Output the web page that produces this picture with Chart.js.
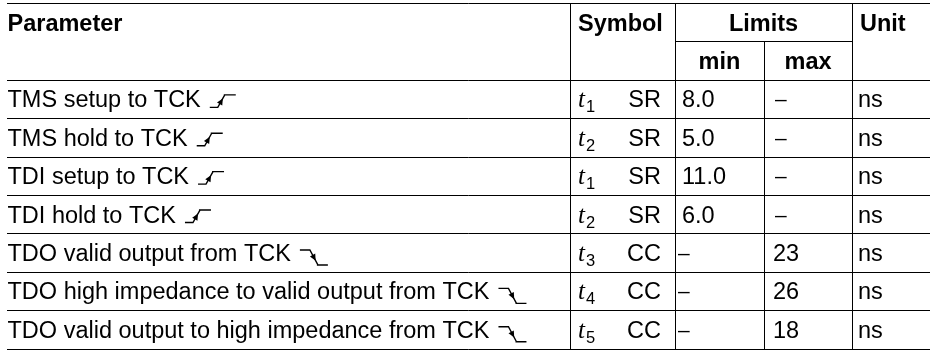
<!DOCTYPE html>
<html>
<head>
<meta charset="utf-8">
<script src="https://cdn.jsdelivr.net/npm/chart.js@4/dist/chart.umd.min.js"></script>
<style>
  html, body { margin: 0; padding: 0; background: #fff; }
  #wrap { width: 930px; height: 352px; }
</style>
</head>
<body>
<div id="wrap"><canvas id="table" width="930" height="352"></canvas></div>
<script>
// table content
const headers = ['Parameter', 'Symbol', 'Limits', 'Unit'];
const subHeaders = ['min', 'max'];
const parameters = [
  'TMS setup to TCK',
  'TMS hold to TCK',
  'TDI setup to TCK',
  'TDI hold to TCK',
  'TDO valid output from TCK',
  'TDO high impedance to valid output from TCK',
  'TDO valid output to high impedance from TCK'
];
const edges = ['rise', 'rise', 'rise', 'rise', 'fall', 'fall', 'fall'];
const symbolIndex = [1, 2, 1, 2, 3, 4, 5];
const symbolClass = ['SR', 'SR', 'SR', 'SR', 'CC', 'CC', 'CC'];
const minValues = [8.0, 5.0, 11.0, 6.0, null, null, null];
const maxValues = [null, null, null, null, 23, 26, 18];
const units = ['ns', 'ns', 'ns', 'ns', 'ns', 'ns', 'ns'];

// column edges on the x scale: left, symbol, min, max, unit, right
const colEdges = [7, 570, 675, 764, 852, 930];
const headerRows = 2;

const SANS = '"Liberation Sans", Arial, sans-serif';
const SERIF = '"Liberation Serif", "Times New Roman", serif';
const FS = 23.5;
const CAP = FS * 0.716;

function fmtMin(v) { return v === null ? null : v.toFixed(1); }
function fmtMax(v) { return v === null ? null : String(v); }

function drawDash(ctx, x, base) {
  ctx.save();
  ctx.font = '21px ' + SANS;
  ctx.textAlign = 'left';
  ctx.fillText('\u2013', x, base - 1);
  ctx.restore();
}

function drawEdge(ctx, x, base, kind) {
  ctx.save();
  ctx.lineWidth = 1.4;
  ctx.strokeStyle = '#000';
  ctx.fillStyle = '#000';
  ctx.beginPath();
  let ax, ay, bx, by;
  if (kind === 'rise') {
    const lo = base, hi = base - 12.5;
    ctx.moveTo(x, lo); ctx.lineTo(x + 8, lo);
    ctx.lineTo(x + 15, hi);
    ctx.moveTo(x + 14, hi); ctx.lineTo(x + 26, hi);
    ax = x + 8; ay = lo; bx = x + 15; by = hi;
  } else {
    const hi = base - 11, lo = base + 4;
    ctx.moveTo(x, hi); ctx.lineTo(x + 10, hi);
    ctx.lineTo(x + 18, lo);
    ctx.moveTo(x + 17, lo); ctx.lineTo(x + 28, lo);
    ax = x + 10; ay = hi; bx = x + 18; by = lo;
  }
  ctx.stroke();
  // arrow head on the slope
  const ang = Math.atan2(by - ay, bx - ax);
  const mx = ax + (bx - ax) * 0.72, my = ay + (by - ay) * 0.72;
  ctx.beginPath();
  ctx.moveTo(mx, my);
  ctx.lineTo(mx - 6.5 * Math.cos(ang) + 3 * Math.sin(ang), my - 6.5 * Math.sin(ang) - 3 * Math.cos(ang));
  ctx.lineTo(mx - 6.5 * Math.cos(ang) - 3 * Math.sin(ang), my - 6.5 * Math.sin(ang) + 3 * Math.cos(ang));
  ctx.closePath();
  ctx.fill();
  ctx.restore();
}

const tablePlugin = {
  id: 'tablePlugin',
  afterDraw(chart) {
    const ctx = chart.ctx;
    const xs = chart.scales.x, ys = chart.scales.y;
    const X = v => Math.round(xs.getPixelForValue(v)) + 0.5;
    const Y = r => Math.round(ys.getPixelForValue(r)) + 0.5;
    const nRows = headerRows + parameters.length;
    const [cL, cSym, cMin, cMax, cUnit, cR] = colEdges;

    ctx.save();
    ctx.strokeStyle = '#000';
    ctx.lineWidth = 1;
    ctx.beginPath();
    for (let r = 0; r <= nRows; r++) {
      if (r === 1) {
        ctx.moveTo(X(cMin), Y(r)); ctx.lineTo(X(cUnit), Y(r));
      } else {
        ctx.moveTo(X(cL) - 0.5, Y(r)); ctx.lineTo(X(cR), Y(r));
      }
    }
    [cSym, cMin, cUnit].forEach(c => { ctx.moveTo(X(c), Y(0)); ctx.lineTo(X(c), Y(nRows)); });
    ctx.moveTo(X(cMax), Y(1)); ctx.lineTo(X(cMax), Y(nRows));
    ctx.stroke();

    const base = r => (ys.getPixelForValue(r) + ys.getPixelForValue(r + 1)) / 2 + CAP / 2;
    ctx.fillStyle = '#000';
    ctx.textBaseline = 'alphabetic';

    // header
    ctx.font = 'bold ' + FS + 'px ' + SANS;
    ctx.textAlign = 'left';
    ctx.fillText(headers[0], xs.getPixelForValue(cL) + 0.5, base(0));
    ctx.fillText(headers[1], xs.getPixelForValue(cSym) + 8, base(0));
    ctx.fillText(headers[3], xs.getPixelForValue(cUnit) + 8, base(0));
    ctx.textAlign = 'center';
    ctx.fillText(headers[2], (xs.getPixelForValue(cMin) + xs.getPixelForValue(cUnit)) / 2, base(0));
    ctx.fillText(subHeaders[0], (xs.getPixelForValue(cMin) + xs.getPixelForValue(cMax)) / 2, base(1));
    ctx.fillText(subHeaders[1], (xs.getPixelForValue(cMax) + xs.getPixelForValue(cUnit)) / 2, base(1));

    // body
    parameters.forEach((p, i) => {
      const r = headerRows + i;
      const b = base(r);
      ctx.textAlign = 'left';
      ctx.font = FS + 'px ' + SANS;
      const px = xs.getPixelForValue(cL) + 0.5;
      ctx.fillText(p, px, b);
      drawEdge(ctx, px + ctx.measureText(p).width + 9, b, edges[i]);

      // symbol: italic t with subscript
      const sx = xs.getPixelForValue(cSym) + 8;
      ctx.font = 'italic 25px ' + SERIF;
      ctx.fillText('t', sx, b);
      const tw = ctx.measureText('t').width;
      ctx.font = '16.5px ' + SANS;
      ctx.fillText(String(symbolIndex[i]), sx + tw + 1, b + 5);
      ctx.font = FS + 'px ' + SANS;
      ctx.textAlign = 'right';
      ctx.fillText(symbolClass[i], xs.getPixelForValue(cMin) - 14, b);

      ctx.textAlign = 'left';
      const minTxt = fmtMin(minValues[i]);
      const maxTxt = fmtMax(maxValues[i]);
      if (minTxt === null) drawDash(ctx, xs.getPixelForValue(cMin) + 3, b);
      else ctx.fillText(minTxt, xs.getPixelForValue(cMin) + 7, b);
      if (maxTxt === null) drawDash(ctx, xs.getPixelForValue(cMax) + 11, b);
      else ctx.fillText(maxTxt, xs.getPixelForValue(cMax) + 9, b);
      ctx.fillText(units[i], xs.getPixelForValue(cUnit) + 6, b);
    });
    ctx.restore();
  }
};

// row boundaries 0..9 on the y scale, a little margin above and below
const rowPx = 38.39;
new Chart(document.getElementById('table'), {
  type: 'line',
  data: { labels: [], datasets: [] },
  options: {
    responsive: false,
    animation: false,
    events: [],
    layout: { padding: 0 },
    plugins: { legend: { display: false }, tooltip: { enabled: false } },
    scales: {
      x: { type: 'linear', display: false, min: 0, max: 930 },
      y: { type: 'linear', display: false, reverse: true, min: -3 / rowPx, max: 352 / rowPx - 3 / rowPx }
    }
  },
  plugins: [tablePlugin]
});
</script>
</body>
</html>
